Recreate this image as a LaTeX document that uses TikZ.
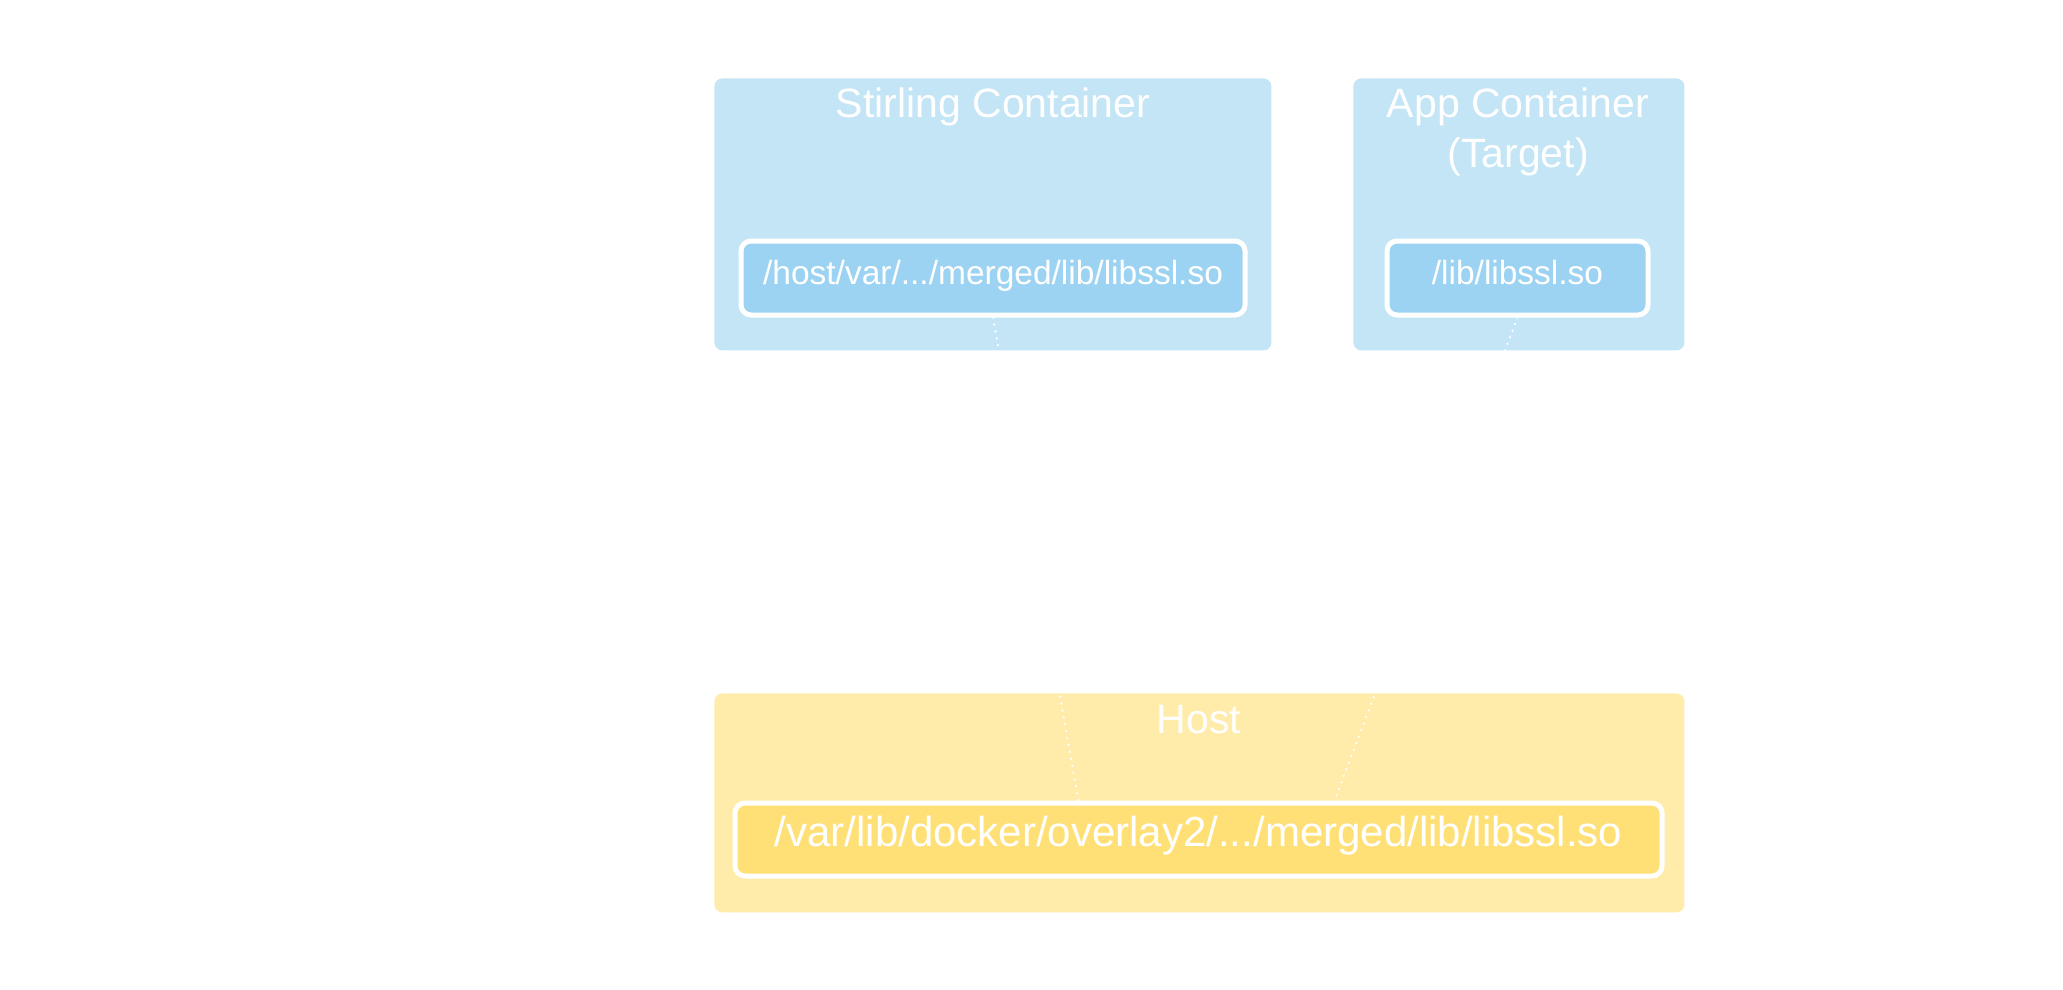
\documentclass[tikz,border=0pt]{standalone}
\usepackage{fontspec}
\setmainfont{Liberation Sans}
\definecolor{boxblue}{RGB}{195,229,246}
\definecolor{libblue}{RGB}{157,211,242}
\definecolor{boxyellow}{RGB}{255,236,170}
\definecolor{libyellow}{RGB}{255,224,118}
\tikzset{
    container/.style={rectangle, fill=boxblue, rounded corners=4pt, anchor=north west, inner sep=0pt},
    hostbox/.style={container, fill=boxyellow},
    title/.style={text=white, font=\fontsize{20.5}{25}\selectfont, align=center, inner sep=0pt},
    lib/.style={rectangle, draw=white, line width=2.5pt, rounded corners=5pt, fill=libblue, text=white, font=\fontsize{16.75}{20}\selectfont, minimum height=37pt, inner sep=0pt, text height=0.8em, text depth=0.11em},
    hostlib/.style={lib, fill=libyellow, font=\fontsize{21}{25}\selectfont, minimum height=36.5pt},
    link/.style={draw=white, line width=1.2pt, dash pattern=on 0.1pt off 3.4pt, line cap=round},
}
\begin{document}
\begin{tikzpicture}[x=0.5pt, y=-0.5pt]
    \useasboundingbox (0,0) rectangle (2063,990);
    % containers
    \node[container, minimum width=278.5pt, minimum height=136pt] (stirling) at (714,78) {};
    \node[container, minimum width=165.5pt, minimum height=136pt] (app) at (1353,78) {};
    \node[hostbox, minimum width=485pt, minimum height=109.5pt] (host) at (714,693) {};
    % titles
    \node[title] (stirlingtitle) at (993,107) {Stirling Container};
    \node[title] (apptitle) at (1518,132) {App Container\\(Target)};
    \node[title] (hosttitle) at (1199,720) {Host};
    % libraries
    \node[lib, minimum width=252pt] (stirlinglib) at (993,278) {/host/var/.../merged/lib/libssl.so};
    \node[lib, minimum width=130.5pt] (applib) at (1517.5,278) {/lib/libssl.so};
    \node[hostlib, minimum width=463.5pt] (hostlib) at (1198.5,839.5) {/var/lib/docker/overlay2/.../merged/lib/libssl.so};
    \draw[link] (stirlinglib.south) -- (hostlib.162);
    \draw[link] (applib.south) -- (hostlib.16);
\end{tikzpicture}
\end{document}
